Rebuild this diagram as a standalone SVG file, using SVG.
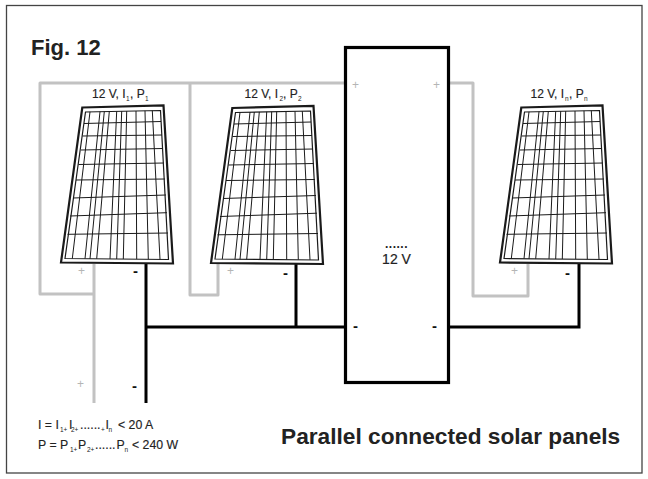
<svg xmlns="http://www.w3.org/2000/svg" width="648" height="479" viewBox="0 0 648 479">
<style>
text{font-family:"Liberation Sans",Arial,sans-serif;fill:#222}
.lbl{font-size:12px;stroke:#222;stroke-width:0.15}
.sub{font-size:6.5px}
.plus{font-size:12px;fill:#b5b5b5}
.minus{font-size:15px;font-weight:bold;fill:#111}
.eq{font-size:12.3px;stroke:#222;stroke-width:0.15}
.g{fill:none;stroke:#c2c2c2;stroke-width:3;stroke-linejoin:round}
.k{fill:none;stroke:#000;stroke-width:3}
</style>
<defs>
<g id="panel" fill="none" stroke="#1a1a1a">
<path d="M82.300 107.500L163.500 105.500L173 263.500L61 262.500Z" stroke-width="2.200"/>
<path d="M85.500 112L160.500 110.500L168.500 259.500L65 258.500Z" stroke-width="1.200"/>
<path stroke-width="1" d="M90 111.800L72.300 258.600M100 111.600L85 258.700M104.300 111.500L90 258.800M109.300 111.400L96.700 258.800M116.700 111.300L110 258.900M121.700 111.200L116.700 259M126.700 111.100L123.300 259M136 111L136.700 259.100M145 110.800L148.300 259.200M152.300 110.600L160 259.300"/>
<path stroke-width="1" d="M84 123.500L161 121.500M82.500 136L162 135M81 150L163 148.500M78.500 164.500L164 163M76 180L165 179M73 198L166 195M70 216L167 212.700M67.500 234.300L168 233"/>
</g>
</defs>
<rect x="6.500" y="5.500" width="635.500" height="467.500" fill="#fff" stroke="#444" stroke-width="1.300"/>
<g id="connectors">
<path class="g" d="M344 83H40V294H94V264M94 294V403"/>
<path class="g" d="M190 83V295H218V264"/>
<path class="g" d="M450 83H473V296H528V264"/>
<path class="k" d="M146 264V403M146 327H344M296 264V327"/>
<path class="k" d="M450 327H579V264"/>
</g>
<g id="panel-1"><use href="#panel"/>
<text class="lbl" x="92" y="98">12 V, I</text><text class="sub" x="126" y="101">1</text><text class="lbl" x="130" y="98">, P</text><text class="sub" x="145" y="101">1</text>
</g>
<g id="panel-2"><use href="#panel" transform="translate(150,0.500)"/>
<text class="lbl" x="244.500" y="98">12 V, I</text><text class="sub" x="279.500" y="101">2</text><text class="lbl" x="283" y="98">, P</text><text class="sub" x="298" y="101">2</text>
</g>
<g id="panel-n"><use href="#panel" transform="translate(439,0)"/>
<text class="lbl" x="530.500" y="98">12 V, I</text><text class="sub" x="565" y="101">n</text><text class="lbl" x="569" y="98">, P</text><text class="sub" x="584" y="101">n</text>
</g>
<g id="battery">
<rect x="345.500" y="47.500" width="103" height="335" fill="#fff" stroke="#000" stroke-width="3.200"/>
<text x="396.500" y="248" text-anchor="middle" font-size="12" font-weight="bold" letter-spacing="0.500">......</text>
<text x="396.500" y="264" text-anchor="middle" font-size="14" stroke="#222" stroke-width="0.2">12 V</text>
<text class="plus" x="352" y="89">+</text><text class="plus" x="433" y="89">+</text>
<text class="minus" x="353" y="331">-</text><text class="minus" x="432" y="331">-</text>
</g>
<g id="marks">
<text class="plus" x="78" y="275">+</text><text class="plus" x="227" y="275">+</text><text class="plus" x="511" y="275">+</text><text class="plus" x="77" y="388">+</text>
<text class="minus" x="133" y="276">-</text><text class="minus" x="283" y="278">-</text><text class="minus" x="565" y="278">-</text><text class="minus" x="132" y="391">-</text>
</g>
<text x="31" y="55" font-size="22" font-weight="bold">Fig. 12</text>
<g id="formulas">
<text class="eq" x="38" y="429">I = I</text><text class="sub" x="60" y="432">1+</text><text class="eq" x="69" y="429">I</text><text class="sub" x="71" y="432">2+</text><text class="eq" x="80" y="429">......</text><text class="sub" x="101" y="432">+</text><text class="eq" x="105.500" y="429">I</text><text class="sub" x="108.500" y="432">n</text><text class="eq" x="118" y="429">&lt; 20 A</text>
<text class="eq" x="38" y="449">P = P</text><text class="sub" x="70" y="452">1+</text><text class="eq" x="78" y="449">P</text><text class="sub" x="87" y="452">2+</text><text class="eq" x="95" y="449">......</text><text class="eq" x="116.500" y="449">P</text><text class="sub" x="124.500" y="452">n</text><text class="eq" x="132" y="449">&lt; 240 W</text>
</g>
<text x="281" y="444" font-size="22.700" font-weight="bold">Parallel connected solar panels</text>
</svg>
